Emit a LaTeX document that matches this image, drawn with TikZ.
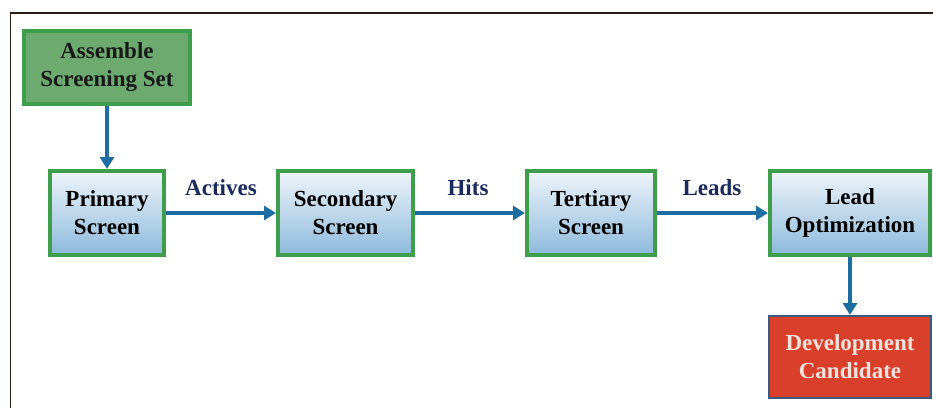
\documentclass[tikz,border=0pt]{standalone}
\usepackage{fontspec}
\setmainfont{Liberation Serif}
\usetikzlibrary{arrows.meta}
\definecolor{boxgreen}{HTML}{3E9E4C}
\definecolor{asmfill}{HTML}{6DAA70}
\definecolor{bluetop}{HTML}{EEF4FA}
\definecolor{bluebot}{HTML}{8DBADB}
\definecolor{arrowblue}{HTML}{1C6EA2}
\definecolor{labelnavy}{HTML}{1B2A5C}
\definecolor{dcred}{HTML}{D9402B}
\definecolor{dcborder}{HTML}{3D5A80}
\definecolor{dctext}{HTML}{F7E2DC}
\definecolor{frameline}{HTML}{2B1D14}
\begin{document}
\begin{tikzpicture}[x=1pt,y=1pt,
  txt/.style={font=\fontsize{23}{28}\selectfont\bfseries, align=center},
  stepbox/.style={txt, draw=boxgreen, line width=4pt, top color=bluetop, bottom color=bluebot, inner sep=0pt, minimum height=84pt, text=black},
  asmbox/.style={txt, draw=boxgreen, line width=4pt, fill=asmfill, inner sep=0pt, minimum width=166pt, minimum height=73pt, text=black!90},
  dcbox/.style={txt, draw=dcborder, line width=2pt, fill=dcred, inner sep=0pt, minimum width=162pt, minimum height=82pt, text=dctext},
  flow/.style={draw=arrowblue, line width=3.8pt, -{Triangle[length=12pt,width=14pt]}},
  lbl/.style={font=\fontsize{23}{28}\selectfont\bfseries, text=labelnavy}
]
\useasboundingbox (0,0) rectangle (933,-408);
\draw[frameline, line width=1.5pt] (10.5,-408) -- (10.5,-13) -- (933,-13);

\node[asmbox] (asm) at (107,-67.5) {Assemble\\Screening Set};
\node[stepbox, minimum width=114pt] (prim) at (107,-213) {Primary\\Screen};
\node[stepbox, minimum width=135pt] (sec) at (345.5,-213) {Secondary\\Screen};
\node[stepbox, minimum width=128pt] (ter) at (591,-213) {Tertiary\\Screen};
\node[stepbox, minimum width=160pt] (lead) at (850,-213) {\rule[-6pt]{0pt}{1pt}Lead\\Optimization};
\node[dcbox] (dc) at (850,-357) {Development\\Candidate};

\draw[flow] (asm.south) -- (prim.north);
\draw[flow] (prim.east) -- (sec.west);
\draw[flow] (sec.east) -- (ter.west);
\draw[flow] (ter.east) -- (lead.west);
\draw[flow] (lead.south) -- (dc.north);

\node[lbl] (la) at (221,-188) {Actives};
\node[lbl] (lh) at (468,-188) {Hits};
\node[lbl] (ll) at (712,-188) {Leads};
\end{tikzpicture}
\end{document}
